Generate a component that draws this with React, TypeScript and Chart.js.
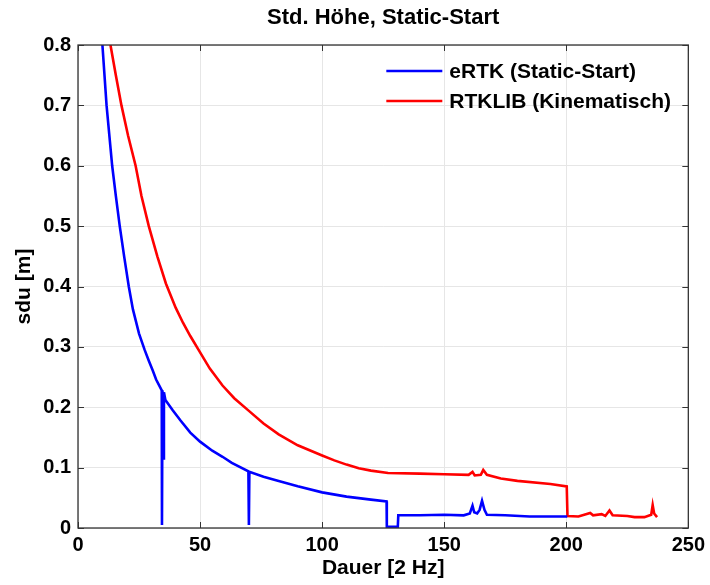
import React, { useEffect, useRef } from "react";
import { Chart, registerables } from "chart.js";

Chart.register(...registerables);

const chartTitle = "Std. Höhe, Static-Start";
const xTitle = "Dauer [2 Hz]";
const yTitle = "sdu [m]";
const legendLabels = ["eRTK (Static-Start)", "RTKLIB (Kinematisch)"];
const seriesColors = ["#0000ff", "#ff0000"];

const xTicks = [0, 50, 100, 150, 200, 250];
const yTicks = [0, 0.1, 0.2, 0.3, 0.4, 0.5, 0.6, 0.7, 0.8];

const ertkX = [
  10.0, 11.7, 14.0, 15.5, 17.1, 18.9, 20.8, 22.5, 25.0, 27.3, 29.0, 30.5, 32.0, 34.3, 34.4,
  34.6, 34.9, 35.2, 35.8, 38.8, 42.0, 46.0, 50.0, 55.0, 59.2, 63.0, 69.8, 70.0, 70.2, 76.0,
  82.2, 90.0, 100.0, 110.0, 120.0, 126.4, 126.5, 131.0, 131.2, 140.0, 150.0, 158.0, 160.5,
  161.6, 162.3, 163.5, 164.5, 165.5, 166.5, 167.5, 175.0, 185.0, 200.4,
];
const ertkY = [
  0.8, 0.7, 0.6, 0.55, 0.5, 0.45, 0.4, 0.362, 0.322, 0.295, 0.277, 0.262, 0.246, 0.228, 0.005,
  0.228, 0.115, 0.225, 0.212, 0.195, 0.178, 0.158, 0.143, 0.128, 0.118, 0.108, 0.094, 0.005,
  0.093, 0.085, 0.078, 0.069, 0.059, 0.052, 0.047, 0.044, 0.002, 0.002, 0.021, 0.021, 0.022,
  0.021, 0.024, 0.037, 0.026, 0.024, 0.03, 0.045, 0.03, 0.022, 0.021, 0.019, 0.019,
];

const rtklibX = [
  13.3, 15.5, 17.8, 20.5, 23.6, 26.0, 29.0, 32.5, 36.0, 40.0, 43.0, 46.0, 49.4, 54.0, 59.2,
  64.0, 70.0, 76.0, 82.2, 90.0, 100.0, 105.0, 110.0, 115.0, 120.0, 127.0, 140.0, 150.0,
  160.0, 161.6, 162.5, 165.0, 166.0, 167.5, 173.2, 180.0, 193.5, 200.2, 200.5, 205.0,
  209.8, 211.0, 214.5, 216.0, 217.7, 219.0, 225.0, 228.0, 232.0, 234.8, 235.4, 236.0, 237.2,
];
const rtklibY = [
  0.8, 0.75, 0.7, 0.65, 0.6, 0.55, 0.5, 0.45, 0.405, 0.365, 0.34, 0.318, 0.295, 0.264, 0.236,
  0.215, 0.194, 0.173, 0.155, 0.137, 0.12, 0.112, 0.105, 0.099, 0.095, 0.091, 0.09, 0.089,
  0.088, 0.093, 0.087, 0.088, 0.096, 0.088, 0.082, 0.078, 0.073, 0.069, 0.02, 0.019,
  0.025, 0.021, 0.023, 0.02, 0.029, 0.021, 0.02, 0.018, 0.018, 0.022, 0.038, 0.024, 0.018,
];

const FONT = "'Liberation Sans', Arial, sans-serif";

const toPoints = (xs: number[], ys: number[]) => xs.map((x, i) => ({ x, y: ys[i] }));

const framePlugin = {
  id: "matlabFrame",
  beforeDatasetsDraw(chart: any) {
    const { ctx, chartArea, scales } = chart;
    const { left, right, top, bottom } = chartArea;
    ctx.save();
    ctx.strokeStyle = "#333333";
    ctx.lineWidth = 1;
    const len = 6;
    ctx.beginPath();
    xTicks.forEach((v) => {
      const px = Math.round(scales.x.getPixelForValue(v)) + 0.5;
      ctx.moveTo(px, bottom);
      ctx.lineTo(px, bottom - len);
      ctx.moveTo(px, top);
      ctx.lineTo(px, top + len);
    });
    yTicks.forEach((v) => {
      const py = Math.round(scales.y.getPixelForValue(v)) + 0.5;
      ctx.moveTo(left, py);
      ctx.lineTo(left + len, py);
      ctx.moveTo(right, py);
      ctx.lineTo(right - len, py);
    });
    ctx.stroke();
    ctx.restore();
  },
  afterDraw(chart: any) {
    const { ctx, chartArea } = chart;
    const { left, right, top, bottom } = chartArea;
    ctx.save();
    ctx.strokeStyle = "#333333";
    ctx.lineWidth = 1.3;
    ctx.strokeRect(left, top, right - left, bottom - top);

    ctx.fillStyle = "#000";
    ctx.font = `bold 22px ${FONT}`;
    ctx.textAlign = "center";
    ctx.textBaseline = "middle";
    ctx.fillText(chartTitle, (left + right) / 2, 18);

    ctx.font = `bold 21px ${FONT}`;
    ctx.textAlign = "left";
    legendLabels.forEach((lab, i) => {
      const y = top + 26 + i * 30;
      ctx.strokeStyle = seriesColors[i];
      ctx.lineWidth = 2.5;
      ctx.beginPath();
      ctx.moveTo(right - 302, y);
      ctx.lineTo(right - 246, y);
      ctx.stroke();
      ctx.fillStyle = "#000";
      ctx.fillText(lab, right - 239, y + 1);
    });
    ctx.restore();
  },
};

export default function App() {
  const canvasRef = useRef<HTMLCanvasElement | null>(null);

  useEffect(() => {
    if (!canvasRef.current) return;
    const chart = new Chart(canvasRef.current, {
      type: "scatter",
      data: {
        datasets: [
          {
            label: legendLabels[0],
            data: toPoints(ertkX, ertkY),
            showLine: true,
            borderColor: seriesColors[0],
            backgroundColor: seriesColors[0],
            borderWidth: 2.6,
            pointRadius: 0,
            tension: 0,
          },
          {
            label: legendLabels[1],
            data: toPoints(rtklibX, rtklibY),
            showLine: true,
            borderColor: seriesColors[1],
            backgroundColor: seriesColors[1],
            borderWidth: 2.6,
            pointRadius: 0,
            tension: 0,
          },
        ],
      },
      options: {
        responsive: false,
        animation: false,
        layout: { padding: { left: 0, right: 18, top: 45, bottom: 0 } },
        plugins: {
          legend: { display: false },
          title: { display: false },
          tooltip: { enabled: false },
        },
        scales: {
          x: {
            type: "linear",
            min: 0,
            max: 250,
            afterFit: (s: any) => {
              s.height = 57;
            },
            afterBuildTicks: (s: any) => {
              s.ticks = xTicks.map((v) => ({ value: v }));
            },
            grid: { color: "#e6e6e6", drawTicks: false, lineWidth: 1 },
            border: { display: false },
            ticks: {
              padding: 5,
              color: "#000",
              font: { family: FONT, size: 20, weight: "bold" },
              callback: (v: any) => String(v),
            },
            title: {
              display: true,
              text: xTitle,
              color: "#000",
              font: { family: FONT, size: 21, weight: "bold" },
              padding: { top: 0, bottom: 4 },
            },
          },
          y: {
            type: "linear",
            min: 0,
            max: 0.8,
            afterFit: (s: any) => {
              s.width = 78;
            },
            afterBuildTicks: (s: any) => {
              s.ticks = yTicks.map((v) => ({ value: v }));
            },
            grid: { color: "#e6e6e6", drawTicks: false, lineWidth: 1 },
            border: { display: false },
            ticks: {
              padding: 7,
              color: "#000",
              font: { family: FONT, size: 20, weight: "bold" },
              callback: (v: any) => String(Math.round(v * 10) / 10),
            },
            title: {
              display: true,
              text: yTitle,
              color: "#000",
              font: { family: FONT, size: 21, weight: "bold" },
              padding: { top: 12, bottom: 0 },
            },
          },
        },
      },
      plugins: [framePlugin],
    });
    return () => chart.destroy();
  }, []);

  return (
    <div style={{ position: "absolute", left: 0, top: 0, width: 710, height: 585, background: "#fff" }}>
      <canvas ref={canvasRef} width={710} height={585} style={{ display: "block" }} />
    </div>
  );
}
